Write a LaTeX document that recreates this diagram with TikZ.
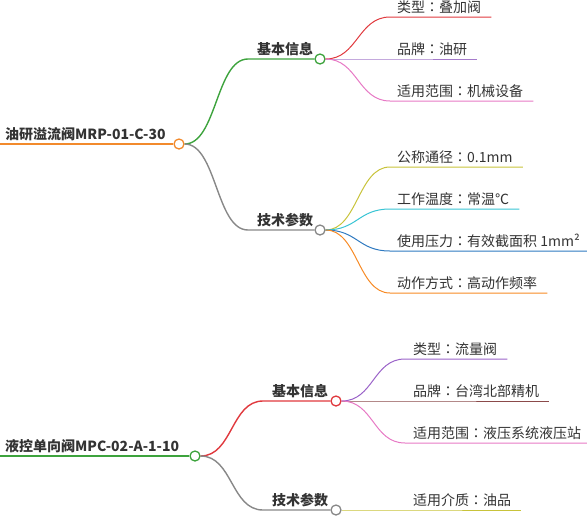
\documentclass[tikz,border=0pt]{standalone}
\usepackage{fontspec}
\setmainfont{Noto Sans CJK SC}
\newfontfamily\tcfont{Noto Sans CJK TC}
\newcommand\cco{{\tcfont ：}}
\definecolor{txtc}{HTML}{333333}
\definecolor{orangeA}{HTML}{F28A2C}
\definecolor{greenA}{HTML}{3DA33D}
\definecolor{grayA}{HTML}{888888}
\definecolor{redA}{HTML}{E0393E}
\definecolor{purpleA}{HTML}{A57BCB}
\definecolor{pinkA}{HTML}{E779C5}
\definecolor{oliveA}{HTML}{C8C33A}
\definecolor{cyanA}{HTML}{38C4D4}
\definecolor{blueA}{HTML}{2E79C0}
\definecolor{orangeB}{HTML}{F78A24}
\definecolor{brownA}{HTML}{8B4A4A}
\definecolor{purpleB}{HTML}{9A62C8}
\begin{document}
\begin{tikzpicture}[x=1pt,y=-1pt,
  txt/.style={inner sep=0pt, anchor=base west, text=txtc, font=\fontsize{14}{16}\selectfont},
  roottxt/.style={inner sep=0pt, anchor=base west, text=txtc, font=\fontsize{14}{16}\selectfont\bfseries},
  dot/.style={circle, draw=#1, fill=white, line width=1.3pt, minimum size=10pt, inner sep=0pt},
  rootline/.style={line width=2pt},
  brline/.style={line width=1.4pt},
  lfline/.style={line width=1pt},
  sc/.style={to path={.. controls +(32,0) and +(-32,0) .. (\tikztotarget)}}
]
\useasboundingbox (0,0) rectangle (587,515);

% ---------- Tree 1 ----------
\node[dot=orangeA] (r1) at (179,144) {};
\coordinate (r1s) at (0,144);
\node[roottxt] (r1t) at (5,139.5) {油研溢流阀MRP-01-C-30};
\draw[rootline, orangeA] (r1s) -- (r1.west);

\node[dot=greenA] (b1) at (320,59) {};
\coordinate (b1s) at (248,59);
\node[roottxt] (b1t) at (257,54.5) {基本信息};
\draw[brline, greenA] (r1.east) to[sc] (b1s) -- (b1.west);

\node[dot=grayA] (b2) at (320,230) {};
\coordinate (b2s) at (248,230);
\node[roottxt] (b2t) at (257,225.5) {技术参数};
\draw[brline, grayA] (r1.east) to[sc] (b2s) -- (b2.west);

% leaves of b1
\coordinate (l11s) at (390,17);
\node[txt] (l11) at (397,12.5) {类型\cco 叠加阀};
\draw[lfline, redA] (b1.east) to[sc] (l11s) -- ([xshift=10pt]l11.east |- l11s);

\coordinate (l12s) at (390,59);
\node[txt] (l12) at (397,54.5) {品牌\cco 油研};
\draw[lfline, purpleA] (b1.east) to[sc] (l12s) -- ([xshift=10pt]l12.east |- l12s);

\coordinate (l13s) at (390,101);
\node[txt] (l13) at (397,96.5) {适用范围\cco 机械设备};
\draw[lfline, pinkA] (b1.east) to[sc] (l13s) -- ([xshift=10pt]l13.east |- l13s);

% leaves of b2
\coordinate (l21s) at (390,167);
\node[txt] (l21) at (397,162.5) {公称通径\cco 0.1mm};
\draw[lfline, oliveA] (b2.east) to[sc] (l21s) -- ([xshift=10pt]l21.east |- l21s);

\coordinate (l22s) at (390,209);
\node[txt] (l22) at (397,204.5) {工作温度\cco 常温℃};
\draw[lfline, cyanA] (b2.east) to[sc] (l22s) -- ([xshift=10pt]l22.east |- l22s);

\coordinate (l23s) at (390,251);
\node[txt] (l23) at (397,246.5) {使用压力\cco 有效截面积 1mm²};
\draw[lfline, blueA] (b2.east) to[sc] (l23s) -- ([xshift=10pt]l23.east |- l23s);

\coordinate (l24s) at (390,293);
\node[txt] (l24) at (397,288.5) {动作方式\cco 高动作频率};
\draw[lfline, orangeB] (b2.east) to[sc] (l24s) -- ([xshift=10pt]l24.east |- l24s);

% ---------- Tree 2 ----------
\node[dot=greenA] (r2) at (195,456) {};
\coordinate (r2s) at (0,456);
\node[roottxt] (r2t) at (5,451.5) {液控单向阀MPC-02-A-1-10};
\draw[rootline, greenA] (r2s) -- (r2.west);

\node[dot=redA] (b3) at (336,401) {};
\coordinate (b3s) at (263,401);
\node[roottxt] (b3t) at (272,396.5) {基本信息};
\draw[brline, redA] (r2.east) to[sc] (b3s) -- (b3.west);

\node[dot=grayA] (b4) at (336,510) {};
\coordinate (b4s) at (263,510);
\node[roottxt] (b4t) at (272,505.5) {技术参数};
\draw[brline, grayA] (r2.east) to[sc] (b4s) -- (b4.west);

% leaves of b3
\coordinate (l31s) at (405,359);
\node[txt] (l31) at (413,354.5) {类型\cco 流量阀};
\draw[lfline, purpleB] (b3.east) to[sc] (l31s) -- ([xshift=10pt]l31.east |- l31s);

\coordinate (l32s) at (405,401);
\node[txt] (l32) at (413,396.5) {品牌\cco 台湾北部精机};
\draw[lfline, brownA] (b3.east) to[sc] (l32s) -- ([xshift=10pt]l32.east |- l32s);

\coordinate (l33s) at (405,443);
\node[txt] (l33) at (413,438.5) {适用范围\cco 液压系统液压站};
\draw[lfline, pinkA] (b3.east) to[sc] (l33s) -- ([xshift=10pt]l33.east |- l33s);

% leaf of b4
\coordinate (l41s) at (405,510);
\node[txt] (l41) at (413,505.5) {适用介质\cco 油品};
\draw[lfline, oliveA] (b4.east) to[sc] (l41s) -- ([xshift=10pt]l41.east |- l41s);
\end{tikzpicture}
\end{document}
